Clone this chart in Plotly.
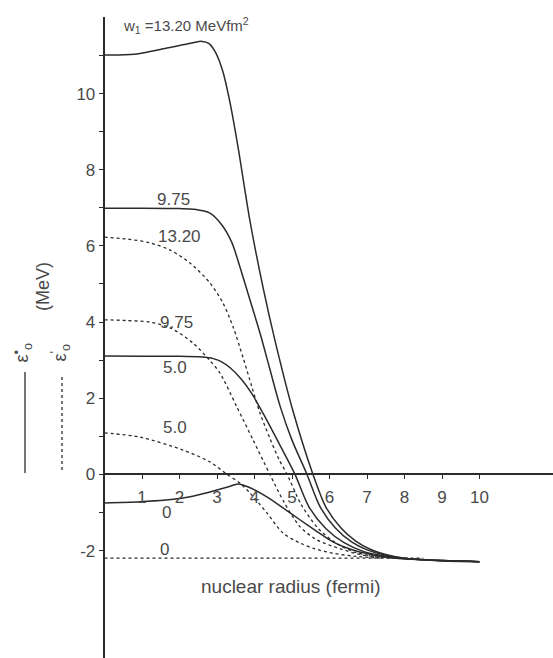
import plotly.graph_objects as go

# ---------------- data ----------------
# solid curves: eps_o (dot) for w1 = 13.20, 9.75, 5.0, 0
x_s13 = [0, 0.8, 1.7, 2.3, 2.6, 2.78, 2.95, 3.15, 3.35, 3.56, 3.88, 4.23, 4.55, 5.03, 5.56, 5.9, 6.3, 6.7, 7.1, 7.5, 8.0, 8.7, 10]
y_s13 = [11.01, 11.03, 11.2, 11.32, 11.37, 11.32, 11.1, 10.6, 9.75, 8.6, 6.65, 4.9, 3.5, 1.65, 0.0, -0.85, -1.4, -1.75, -1.97, -2.1, -2.2, -2.25, -2.29]

x_s975 = [0, 1.0, 2.0, 2.4, 2.81, 3.13, 3.4, 3.61, 3.88, 4.15, 4.4, 4.68, 5.0, 5.4, 5.75, 6.15, 6.6, 7.0, 7.5, 8.0, 8.7, 10]
y_s975 = [6.99, 6.99, 6.98, 6.96, 6.86, 6.55, 6.08, 5.45, 4.58, 3.7, 2.8, 1.8, 0.9, 0.0, -0.85, -1.4, -1.78, -1.98, -2.12, -2.2, -2.25, -2.29]

x_s5 = [0, 1.0, 2.0, 2.6, 2.9, 3.1, 3.35, 3.65, 3.93, 4.23, 4.65, 5.08, 5.45, 5.9, 6.4, 6.9, 7.4, 8.0, 8.7, 10]
y_s5 = [3.11, 3.1, 3.1, 3.08, 3.04, 2.97, 2.8, 2.5, 2.12, 1.6, 0.82, 0.0, -0.85, -1.42, -1.8, -2.02, -2.13, -2.21, -2.25, -2.29]

x_s0 = [0, 0.95, 2.09, 2.81, 3.29, 3.57, 3.88, 4.33, 4.76, 5.21, 5.67, 6.09, 6.6, 7.1, 7.6, 8.2, 9.0, 10]
y_s0 = [-0.75, -0.72, -0.62, -0.46, -0.33, -0.25, -0.35, -0.59, -0.88, -1.19, -1.5, -1.77, -1.98, -2.1, -2.18, -2.23, -2.27, -2.29]

# dashed curves: eps'_o for w1 = 13.20, 9.75, 5.0, 0
x_d13 = [0, 0.6, 1.21, 1.75, 2.28, 2.81, 3.16, 3.43, 3.7, 3.93, 4.15, 4.41, 4.65, 4.87, 5.25, 5.7, 6.2, 6.7, 7.2, 7.8]
y_d13 = [6.23, 6.18, 6.08, 5.89, 5.55, 5.03, 4.5, 3.87, 3.05, 2.3, 1.6, 0.95, 0.4, 0.0, -0.8, -1.42, -1.82, -2.05, -2.15, -2.2]

x_d975 = [0, 0.6, 1.21, 1.75, 2.36, 2.8, 3.08, 3.53, 3.96, 4.41, 4.8, 5.21, 5.67, 6.28, 6.8, 7.4, 8.0]
y_d975 = [4.06, 4.04, 4.0, 3.85, 3.45, 3.0, 2.66, 1.77, 0.91, 0.0, -0.75, -1.37, -1.72, -1.95, -2.1, -2.18, -2.2]

x_d5 = [0, 0.95, 2.09, 2.81, 3.27, 3.6, 3.88, 4.33, 4.76, 5.21, 5.6, 6.09, 6.7, 7.4]
y_d5 = [1.09, 0.98, 0.64, 0.33, 0.0, -0.22, -0.49, -1.01, -1.54, -1.8, -1.95, -2.07, -2.15, -2.2]

x_d0 = [0, 8.5]
y_d0 = [-2.2, -2.2]

solid_series = [(x_s13, y_s13), (x_s975, y_s975), (x_s5, y_s5), (x_s0, y_s0)]
dashed_series = [(x_d13, y_d13), (x_d975, y_d975), (x_d5, y_d5), (x_d0, y_d0)]

# curve labels: (text, x, y)
curve_labels = [("9.75", 1.83, 7.23), ("13.20", 2.01, 6.26), ("9.75", 1.93, 4.0),
                ("5.0", 1.88, 2.8), ("5.0", 1.88, 1.22), ("0", 1.64, -1.01), ("0", 1.59, -1.96)]

x_tick_vals = [1, 2, 3, 4, 5, 6, 7, 8, 9, 10]
y_tick_vals = [-2, 0, 2, 4, 6, 8, 10]
y_tick_text = ["-2", "0", "2", "4", "6", "8", "10"]
y_minor_tick_vals = [-1, 1, 3, 5, 7, 9, 11]

# ---------------- figure ----------------
W, H = 553, 658
X_RANGE = [0, 11.96]
Y_RANGE = [-4.82, 12.01]
X_DOMAIN0 = 104.5 / W
y_zero_paper = (0 - Y_RANGE[0]) / (Y_RANGE[1] - Y_RANGE[0])

INK = "#2b2b2b"
TXT = "#4a4a4a"
FONT = "Liberation Sans, Arial, sans-serif"

fig = go.Figure()
for xs, ys in solid_series:
    fig.add_trace(go.Scatter(x=xs, y=ys, mode="lines",
                             line=dict(color=INK, width=1.5, shape="spline", smoothing=0.8),
                             hoverinfo="skip"))
for xs, ys in dashed_series:
    fig.add_trace(go.Scatter(x=xs, y=ys, mode="lines",
                             line=dict(color=INK, width=1.3, dash="dot", shape="spline", smoothing=0.8),
                             hoverinfo="skip"))

annotations = []
for txt, xv, yv in curve_labels:
    annotations.append(dict(x=xv, y=yv, xref="x", yref="y", text=txt, showarrow=False,
                            font=dict(family=FONT, size=17, color=TXT)))
annotations.append(dict(x=0.45, y=11.8, xref="x", yref="y", xanchor="left",
                        text="w<sub>1</sub> =13.20 MeVfm<sup>2</sup>", showarrow=False,
                        font=dict(family=FONT, size=15, color=TXT)))
annotations.append(dict(x=4.97, y=-2.93, xref="x", yref="y",
                        text="nuclear radius (fermi)", showarrow=False,
                        font=dict(family=FONT, size=19, color=TXT)))
annotations.append(dict(x=31 / W, y=4.92, xref="paper", yref="y", textangle=-90,
                        text="(MeV)", showarrow=False,
                        font=dict(family=FONT, size=18, color=TXT)))
annotations.append(dict(x=8 / W, y=3.19, xref="paper", yref="y", textangle=-90,
                        text="ε<sup>•</sup><sub>o</sub>", showarrow=False,
                        font=dict(family=FONT, size=18, color=TXT)))
annotations.append(dict(x=46 / W, y=3.19, xref="paper", yref="y", textangle=-90,
                        text="ε<sup>'</sup><sub>o</sub>", showarrow=False,
                        font=dict(family=FONT, size=18, color=TXT)))

shapes = [
    dict(type="line", xref="paper", yref="y", x0=25 / W, x1=25 / W, y0=2.69, y1=0.04,
         line=dict(color=INK, width=1.3)),
    dict(type="line", xref="paper", yref="y", x0=62 / W, x1=62 / W, y0=2.56, y1=0.04,
         line=dict(color=INK, width=1.3, dash="dot")),
]

fig.update_layout(
    width=W, height=H,
    margin=dict(l=0, r=0, t=17, b=0),
    paper_bgcolor="white", plot_bgcolor="white",
    showlegend=False,
    annotations=annotations,
    shapes=shapes,
    xaxis=dict(domain=[X_DOMAIN0, 1], range=X_RANGE, anchor="free", position=y_zero_paper,
               showline=True, linecolor=INK, linewidth=1.6,
               ticks="outside", ticklen=4, tickcolor=INK, tickwidth=1.2,
               tickvals=x_tick_vals, ticklabelstandoff=3,
               tickfont=dict(family=FONT, size=17, color=TXT),
               showgrid=False, zeroline=False),
    yaxis=dict(domain=[0, 1], range=Y_RANGE, anchor="x",
               showline=True, linecolor=INK, linewidth=1.6,
               ticks="outside", ticklen=4, tickcolor=INK, tickwidth=1.2,
               tickvals=y_tick_vals, ticktext=y_tick_text,
               minor=dict(tickvals=y_minor_tick_vals, ticks="outside", ticklen=4,
                          tickcolor=INK, tickwidth=1.2, showgrid=False),
               tickfont=dict(family=FONT, size=17, color=TXT),
               showgrid=False, zeroline=False),
)

fig.write_html("out.html", config={"displayModeBar": False},
               post_script="document.body.style.margin='0px';")
